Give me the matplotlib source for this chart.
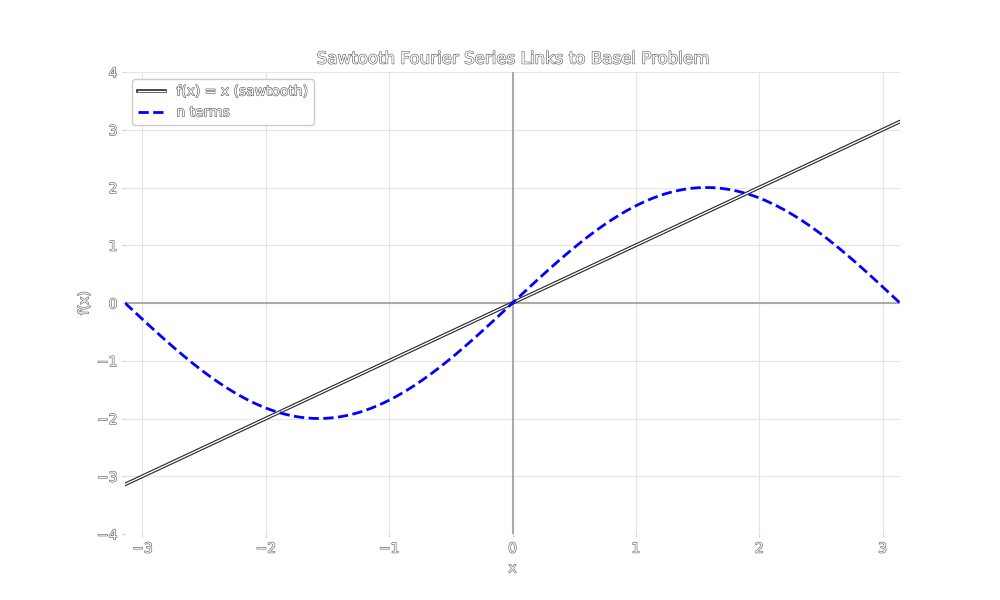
import numpy as np
import matplotlib
matplotlib.use("Agg")
import matplotlib.pyplot as plt
import matplotlib.patheffects as pe

# Data
x_min, x_max = -np.pi, np.pi
sawtooth_slope = 1.0            # f(x) = x
fourier_coeffs = [2.0]          # b_n for n = 1..N shown (n terms)
x_ticks = [-3, -2, -1, 0, 1, 2, 3]
y_ticks = [-4, -3, -2, -1, 0, 1, 2, 3, 4]
title = "Sawtooth Fourier Series Links to Basel Problem"
label_saw = "f(x) = x (sawtooth)"
label_fourier = "n terms"

hollow = [pe.withStroke(linewidth=0.8, foreground="#555555")]
txt_kw = dict(color="white", path_effects=hollow)

fig, ax = plt.subplots(figsize=(10, 6), dpi=100)

xs = np.linspace(x_min, x_max, 400)
saw = sawtooth_slope * xs
series = np.zeros_like(xs)
for n, b in enumerate(fourier_coeffs, start=1):
    series += b * np.sin(n * xs)

ax.axhline(0, color="#aaaaaa", lw=1.5, zorder=1)
ax.axvline(0, color="#aaaaaa", lw=1.5, zorder=1)
ax.plot(xs, saw, color="white", lw=1.0, label=label_saw, zorder=3,
        path_effects=[pe.Stroke(linewidth=2.6, foreground="#222222"), pe.Normal()])
ax.plot(xs, series, color="blue", lw=2, ls="--", label=label_fourier, zorder=4)

ax.set_xlim(x_min, x_max)
ax.set_ylim(-4, 4)
ax.set_xticks(x_ticks)
ax.set_yticks(y_ticks)
ax.grid(True, color="#e5e5e5", lw=0.8, zorder=0)
ax.set_axisbelow(True)
for s in ax.spines.values():
    s.set_visible(False)
ax.tick_params(colors="#cccccc", length=2, labelsize=10)
for lab in ax.get_xticklabels() + ax.get_yticklabels():
    lab.set_color("white")
    lab.set_path_effects(hollow)

ax.set_title(title, fontsize=12, **txt_kw)
ax.set_xlabel("x", fontsize=10, **txt_kw)
ax.set_ylabel("f(x)", fontsize=10, **txt_kw)

leg = ax.legend(loc="upper left", fontsize=10, frameon=True, framealpha=1,
                edgecolor="#cccccc")
for t in leg.get_texts():
    t.set_color("white")
    t.set_path_effects(hollow)

fig.savefig("out.png", dpi=100)
